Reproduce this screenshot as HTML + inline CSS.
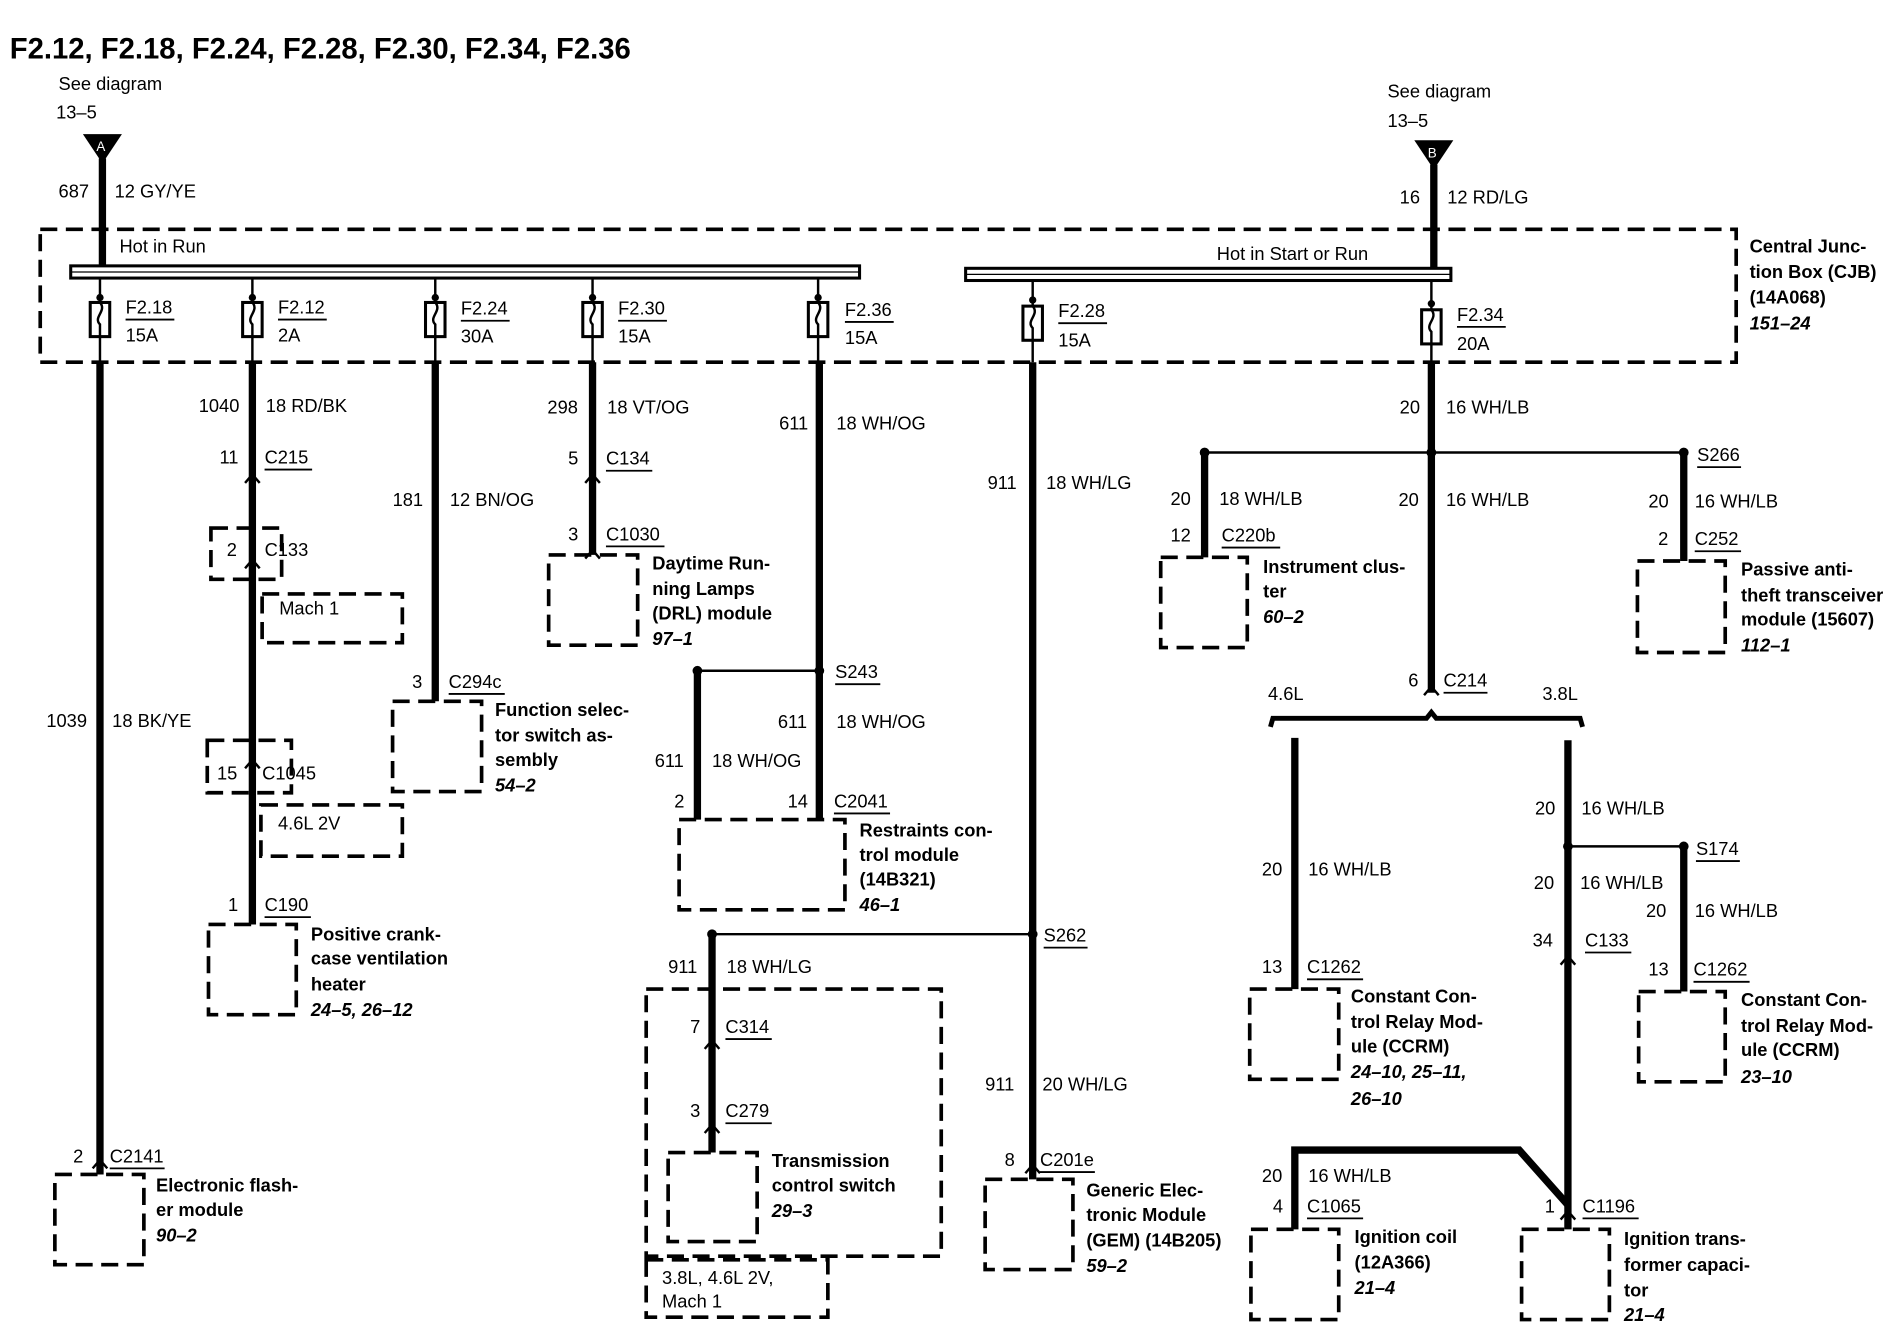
<!DOCTYPE html>
<html><head><meta charset="utf-8"><style>
html,body{margin:0;padding:0;background:#fff;}
svg{display:block;}
text{font-family:"Liberation Sans",sans-serif;font-size:15px;fill:#000;}
.b{font-weight:bold;}
.i{font-weight:bold;font-style:italic;}
.w{stroke:#000;stroke-width:6;fill:none;}
.t{stroke:#000;stroke-width:2;fill:none;}
.d{stroke:#000;stroke-width:3;fill:none;stroke-dasharray:14,7;}
.u{stroke:#000;stroke-width:1.5;}
</style></head><body>
<svg width="1902" height="1344" viewBox="0 0 1560 1102" preserveAspectRatio="none" xmlns="http://www.w3.org/2000/svg">
<text x="8" y="48" class="b" style="font-size:24px">F2.12, F2.18, F2.24, F2.28, F2.30, F2.34, F2.36</text>
<text x="48" y="74">See diagram</text><text x="46" y="97">13–5</text>
<polygon points="68,110 100,110 84,134" fill="#000"/><text x="79" y="124" style="fill:#fff;font-size:11px">A</text>
<line class="w" x1="84" y1="130" x2="84" y2="218"/>
<text x="48" y="162">687</text><text x="94" y="162">12 GY/YE</text>
<text x="1138" y="80">See diagram</text><text x="1138" y="104">13–5</text>
<polygon points="1160,115 1192,115 1176,139" fill="#000"/><text x="1171" y="129" style="fill:#fff;font-size:11px">B</text>
<line class="w" x1="1176" y1="135" x2="1176" y2="220"/>
<text x="1148" y="167">16</text><text x="1187" y="167">12 RD/LG</text>
<rect class="d" x="33" y="188" width="1391" height="109"/>
<text x="98" y="207">Hot in Run</text>
<rect x="58" y="218" width="647" height="10" fill="#fff" stroke="#000" stroke-width="2.5"/>
<line x1="58" y1="223" x2="705" y2="223" stroke="#000" stroke-width="1"/>
<text x="998" y="213">Hot in Start or Run</text>
<rect x="792" y="220" width="398" height="10" fill="#fff" stroke="#000" stroke-width="2.5"/>
<line x1="792" y1="225" x2="1190" y2="225" stroke="#000" stroke-width="1"/>
<text x="1435" y="207" class="b">Central Junc-</text><text x="1435" y="228" class="b">tion Box (CJB)</text><text x="1435" y="249" class="b">(14A068)</text><text x="1435" y="270" class="i">151–24</text>
<g id="fuses">
<!-- fuse helper drawn manually -->
<g transform="translate(82,228)"><line class="t" x1="0" y1="0" x2="0" y2="69"/><circle cx="0" cy="16" r="3"/><rect x="-8" y="20" width="16" height="28" fill="#fff" stroke="#000" stroke-width="2.5"/><path d="M0,20 C6,27 -6,32 0,38 L0,48" class="t"/></g>
<text x="103" y="257">F2.18</text><line class="u" x1="103" y1="262" x2="143" y2="262"/><text x="103" y="280">15A</text>
<g transform="translate(207,228)"><line class="t" x1="0" y1="0" x2="0" y2="69"/><circle cx="0" cy="16" r="3"/><rect x="-8" y="20" width="16" height="28" fill="#fff" stroke="#000" stroke-width="2.5"/><path d="M0,20 C6,27 -6,32 0,38 L0,48" class="t"/></g>
<text x="228" y="257">F2.12</text><line class="u" x1="228" y1="262" x2="268" y2="262"/><text x="228" y="280">2A</text>
<g transform="translate(357,228)"><line class="t" x1="0" y1="0" x2="0" y2="69"/><circle cx="0" cy="16" r="3"/><rect x="-8" y="20" width="16" height="28" fill="#fff" stroke="#000" stroke-width="2.5"/><path d="M0,20 C6,27 -6,32 0,38 L0,48" class="t"/></g>
<text x="378" y="258">F2.24</text><line class="u" x1="378" y1="263" x2="418" y2="263"/><text x="378" y="281">30A</text>
<g transform="translate(486,228)"><line class="t" x1="0" y1="0" x2="0" y2="69"/><circle cx="0" cy="16" r="3"/><rect x="-8" y="20" width="16" height="28" fill="#fff" stroke="#000" stroke-width="2.5"/><path d="M0,20 C6,27 -6,32 0,38 L0,48" class="t"/></g>
<text x="507" y="258">F2.30</text><line class="u" x1="507" y1="263" x2="547" y2="263"/><text x="507" y="281">15A</text>
<g transform="translate(671,228)"><line class="t" x1="0" y1="0" x2="0" y2="69"/><circle cx="0" cy="16" r="3"/><rect x="-8" y="20" width="16" height="28" fill="#fff" stroke="#000" stroke-width="2.5"/><path d="M0,20 C6,27 -6,32 0,38 L0,48" class="t"/></g>
<text x="693" y="259">F2.36</text><line class="u" x1="693" y1="264" x2="733" y2="264"/><text x="693" y="282">15A</text>
<g transform="translate(847,230)"><line class="t" x1="0" y1="0" x2="0" y2="67"/><circle cx="0" cy="16" r="3"/><rect x="-8" y="21" width="16" height="28" fill="#fff" stroke="#000" stroke-width="2.5"/><path d="M0,21 C6,28 -6,33 0,39 L0,49" class="t"/></g>
<text x="868" y="260">F2.28</text><line class="u" x1="868" y1="265" x2="908" y2="265"/><text x="868" y="284">15A</text>
<g transform="translate(1174,230)"><line class="t" x1="0" y1="0" x2="0" y2="67"/><circle cx="0" cy="19" r="3"/><rect x="-8" y="24" width="16" height="28" fill="#fff" stroke="#000" stroke-width="2.5"/><path d="M0,24 C6,31 -6,36 0,42 L0,52" class="t"/></g>
<text x="1195" y="263">F2.34</text><line class="u" x1="1195" y1="268" x2="1235" y2="268"/><text x="1195" y="287">20A</text>
</g>
<!-- F2.18 -->
<line class="w" x1="82" y1="297" x2="82" y2="963"/>
<text x="38" y="596">1039</text><text x="92" y="596">18 BK/YE</text>
<text x="60" y="953">2</text><text x="90" y="953">C2141</text><line class="u" x1="90" y1="958" x2="135" y2="958"/>
<rect class="d" x="45" y="963" width="73" height="74"/>
<text x="128" y="977" class="b">Electronic flash-</text><text x="128" y="997" class="b">er module</text><text x="128" y="1018" class="i">90–2</text>
<!-- F2.12 -->
<line class="w" x1="207" y1="297" x2="207" y2="758"/>
<text x="163" y="338">1040</text><text x="218" y="338">18 RD/BK</text>
<text x="180" y="380">11</text><text x="217" y="380">C215</text><line class="u" x1="217" y1="385" x2="256" y2="385"/>
<rect class="d" x="173" y="433" width="58" height="42"/>
<text x="186" y="456">2</text><text x="217" y="456">C133</text>
<rect class="d" x="215" y="487" width="115" height="40"/><text x="229" y="504">Mach 1</text>
<rect class="d" x="170" y="607" width="69" height="43"/>
<text x="178" y="639">15</text><text x="215" y="639">C1045</text>
<rect class="d" x="214" y="660" width="116" height="42"/><text x="228" y="680">4.6L 2V</text>
<text x="187" y="747">1</text><text x="217" y="747">C190</text><line class="u" x1="217" y1="752" x2="255" y2="752"/>
<rect class="d" x="171" y="758" width="72" height="74"/>
<text x="255" y="771" class="b">Positive crank-</text><text x="255" y="791" class="b">case ventilation</text><text x="255" y="812" class="b">heater</text><text x="255" y="833" class="i">24–5, 26–12</text>
<!-- F2.24 -->
<line class="w" x1="357" y1="297" x2="357" y2="575"/>
<text x="322" y="415">181</text><text x="369" y="415">12 BN/OG</text>
<text x="338" y="564">3</text><text x="368" y="564">C294c</text><line class="u" x1="368" y1="569" x2="414" y2="569"/>
<rect class="d" x="322" y="575" width="73" height="74"/>
<text x="406" y="587" class="b">Function selec-</text><text x="406" y="608" class="b">tor switch as-</text><text x="406" y="628" class="b">sembly</text><text x="406" y="649" class="i">54–2</text>
<!-- F2.30 -->
<line class="w" x1="486" y1="297" x2="486" y2="455"/>
<text x="449" y="339">298</text><text x="498" y="339">18 VT/OG</text>
<text x="466" y="381">5</text><text x="497" y="381">C134</text><line class="u" x1="497" y1="386" x2="535" y2="386"/>
<text x="466" y="443">3</text><text x="497" y="443">C1030</text><line class="u" x1="497" y1="448" x2="545" y2="448"/>
<rect class="d" x="450" y="455" width="73" height="74"/>
<text x="535" y="467" class="b">Daytime Run-</text><text x="535" y="488" class="b">ning Lamps</text><text x="535" y="508" class="b">(DRL) module</text><text x="535" y="529" class="i">97–1</text>
<!-- F2.36 -->
<line class="w" x1="672" y1="297" x2="672" y2="672"/>
<line class="w" x1="572" y1="550" x2="572" y2="672"/>
<line class="t" x1="572" y1="550" x2="672" y2="550"/>
<circle cx="572" cy="550" r="4"/><circle cx="672" cy="550" r="4"/>
<text x="639" y="352">611</text><text x="686" y="352">18 WH/OG</text>
<text x="685" y="556">S243</text><line class="u" x1="685" y1="561" x2="722" y2="561"/>
<text x="638" y="597">611</text><text x="686" y="597">18 WH/OG</text>
<text x="537" y="629">611</text><text x="584" y="629">18 WH/OG</text>
<text x="553" y="662">2</text><text x="646" y="662">14</text><text x="684" y="662">C2041</text><line class="u" x1="684" y1="667" x2="730" y2="667"/>
<rect class="d" x="557" y="672" width="136" height="74"/>
<text x="705" y="686" class="b">Restraints con-</text><text x="705" y="706" class="b">trol module</text><text x="705" y="726" class="b">(14B321)</text><text x="705" y="747" class="i">46–1</text>
<!-- F2.28 -->
<line class="w" x1="847" y1="297" x2="847" y2="967"/>
<text x="810" y="401">911</text><text x="858" y="401">18 WH/LG</text>
<line class="t" x1="584" y1="766" x2="847" y2="766"/>
<circle cx="584" cy="766" r="4"/><circle cx="847" cy="766" r="4"/>
<text x="856" y="772">S262</text><line class="u" x1="856" y1="777" x2="892" y2="777"/>
<text x="808" y="894">911</text><text x="855" y="894">20 WH/LG</text>
<text x="824" y="956">8</text><text x="853" y="956">C201e</text><line class="u" x1="853" y1="961" x2="898" y2="961"/>
<rect class="d" x="808" y="967" width="72" height="74"/>
<text x="891" y="981" class="b">Generic Elec-</text><text x="891" y="1001" class="b">tronic Module</text><text x="891" y="1022" class="b">(GEM) (14B205)</text><text x="891" y="1043" class="i">59–2</text>
<line class="w" x1="584" y1="766" x2="584" y2="945"/>
<text x="548" y="798">911</text><text x="596" y="798">18 WH/LG</text>
<rect class="d" x="530" y="811" width="242" height="219"/>
<text x="566" y="847">7</text><text x="595" y="847">C314</text><line class="u" x1="595" y1="852" x2="633" y2="852"/>
<text x="566" y="916">3</text><text x="595" y="916">C279</text><line class="u" x1="595" y1="921" x2="633" y2="921"/>
<rect class="d" x="548" y="945" width="73" height="73"/>
<text x="633" y="957" class="b">Transmission</text><text x="633" y="977" class="b">control switch</text><text x="633" y="998" class="i">29–3</text>
<rect class="d" x="530" y="1033" width="149" height="47"/>
<text x="543" y="1053">3.8L, 4.6L 2V,</text><text x="543" y="1072">Mach 1</text>
<!-- F2.34 -->
<line class="w" x1="1174" y1="297" x2="1174" y2="568"/>
<text x="1148" y="339">20</text><text x="1186" y="339">16 WH/LB</text>
<line class="t" x1="988" y1="371" x2="1381" y2="371"/>
<circle cx="988" cy="371" r="4"/><circle cx="1174" cy="371" r="4"/><circle cx="1381" cy="371" r="4"/>
<line class="w" x1="988" y1="371" x2="988" y2="457"/>
<text x="960" y="414">20</text><text x="1000" y="414">18 WH/LB</text>
<text x="960" y="444">12</text><text x="1002" y="444">C220b</text><line class="u" x1="1002" y1="449" x2="1050" y2="449"/>
<rect class="d" x="952" y="457" width="71" height="74"/>
<text x="1036" y="470" class="b">Instrument clus-</text><text x="1036" y="490" class="b">ter</text><text x="1036" y="511" class="i">60–2</text>
<text x="1147" y="415">20</text><text x="1186" y="415">16 WH/LB</text>
<line class="w" x1="1381" y1="371" x2="1381" y2="460"/>
<text x="1392" y="378">S266</text><line class="u" x1="1392" y1="383" x2="1428" y2="383"/>
<text x="1352" y="416">20</text><text x="1390" y="416">16 WH/LB</text>
<text x="1360" y="447">2</text><text x="1390" y="447">C252</text><line class="u" x1="1390" y1="452" x2="1428" y2="452"/>
<rect class="d" x="1343" y="460" width="72" height="75"/>
<text x="1428" y="472" class="b">Passive anti-</text><text x="1428" y="493" class="b">theft transceiver</text><text x="1428" y="513" class="b">module (15607)</text><text x="1428" y="534" class="i">112–1</text>
<text x="1155" y="563">6</text><text x="1184" y="563">C214</text><line class="u" x1="1184" y1="568" x2="1220" y2="568"/>
<text x="1040" y="574">4.6L</text><text x="1265" y="574">3.8L</text>
<path d="M1042,596 L1044,589 L1170,589 L1174,584 L1178,589 L1296,589 L1298,596" stroke="#000" stroke-width="4" fill="none"/>
<line class="w" x1="1062" y1="605" x2="1062" y2="811"/>
<text x="1035" y="718">20</text><text x="1073" y="718">16 WH/LB</text>
<text x="1035" y="798">13</text><text x="1072" y="798">C1262</text><line class="u" x1="1072" y1="803" x2="1118" y2="803"/>
<rect class="d" x="1025" y="811" width="73" height="74"/>
<text x="1108" y="822" class="b">Constant Con-</text><text x="1108" y="843" class="b">trol Relay Mod-</text><text x="1108" y="863" class="b">ule (CCRM)</text><text x="1108" y="884" class="i">24–10, 25–11,</text><text x="1108" y="906" class="i">26–10</text>
<line class="w" x1="1286" y1="607" x2="1286" y2="1008"/>
<text x="1259" y="668">20</text><text x="1297" y="668">16 WH/LB</text>
<line class="t" x1="1286" y1="694" x2="1381" y2="694"/>
<circle cx="1286" cy="694" r="4"/><circle cx="1381" cy="694" r="4"/>
<text x="1391" y="701">S174</text><line class="u" x1="1391" y1="706" x2="1427" y2="706"/>
<text x="1258" y="729">20</text><text x="1296" y="729">16 WH/LB</text>
<text x="1257" y="776">34</text><text x="1300" y="776">C133</text><line class="u" x1="1300" y1="781" x2="1338" y2="781"/>
<line class="w" x1="1381" y1="694" x2="1381" y2="813"/>
<text x="1350" y="752">20</text><text x="1390" y="752">16 WH/LB</text>
<text x="1352" y="800">13</text><text x="1389" y="800">C1262</text><line class="u" x1="1389" y1="805" x2="1435" y2="805"/>
<rect class="d" x="1344" y="813" width="71" height="74"/>
<text x="1428" y="825" class="b">Constant Con-</text><text x="1428" y="846" class="b">trol Relay Mod-</text><text x="1428" y="866" class="b">ule (CCRM)</text><text x="1428" y="888" class="i">23–10</text>
<path d="M1062,1008 L1062,943 L1246,943 L1286,988" stroke="#000" stroke-width="6" fill="none"/>
<text x="1035" y="969">20</text><text x="1073" y="969">16 WH/LB</text>
<text x="1044" y="994">4</text><text x="1072" y="994">C1065</text><line class="u" x1="1072" y1="999" x2="1118" y2="999"/>
<rect class="d" x="1026" y="1008" width="72" height="74"/>
<text x="1111" y="1019" class="b">Ignition coil</text><text x="1111" y="1040" class="b">(12A366)</text><text x="1111" y="1061" class="i">21–4</text>
<text x="1267" y="994">1</text><text x="1298" y="994">C1196</text><line class="u" x1="1298" y1="999" x2="1344" y2="999"/>
<rect class="d" x="1248" y="1008" width="72" height="74"/>
<text x="1332" y="1021" class="b">Ignition trans-</text><text x="1332" y="1042" class="b">former capaci-</text><text x="1332" y="1063" class="b">tor</text><text x="1332" y="1083" class="i">21–4</text>
<!-- connector arrows -->
<g stroke="#000" stroke-width="2" fill="none">
<path d="M201,396 L207,389 L213,396"/><path d="M201,466 L207,459 L213,466"/><path d="M201,630 L207,623 L213,630"/>
<path d="M480,396 L486,389 L492,396"/><path d="M480,458 L486,451 L492,458"/>
<path d="M578,860 L584,853 L590,860"/><path d="M578,929 L584,922 L590,929"/>
<path d="M841,962 L847,955 L853,962"/><path d="M76,958 L82,951 L88,958"/>
<path d="M1280,791 L1286,784 L1292,791"/><path d="M1280,1000 L1286,993 L1292,1000"/>
<path d="M1168,570 L1174,563 L1180,570"/>
</g>
</svg>
</body></html>
